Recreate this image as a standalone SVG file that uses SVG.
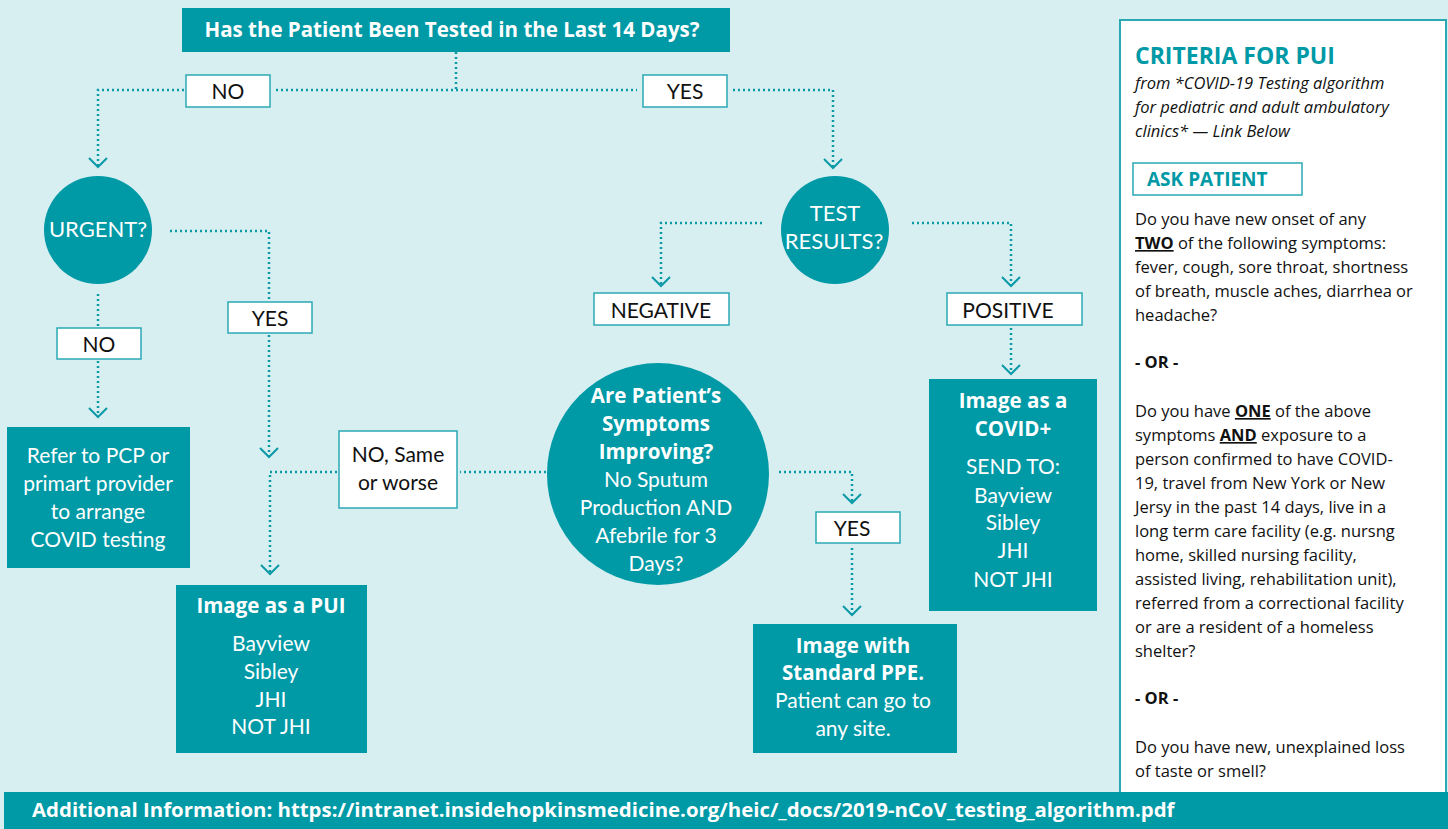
<svg xmlns="http://www.w3.org/2000/svg" width="1448" height="829" viewBox="0 0 1448 829">
<defs>
<style>
.bg{fill:#d8eff1}
.teal{fill:#0099a6}
.lbl{fill:#ffffff;stroke:#2aa9b4;stroke-width:1.5}
.lt{font-family:Lato,"Liberation Sans",sans-serif;font-size:21px;fill:#111;text-anchor:middle}
.wt{font-family:Lato,"Liberation Sans",sans-serif;font-size:21px;fill:#fff;text-anchor:middle}
.wb{font-family:"Open Sans","Liberation Sans",sans-serif;font-size:20.5px;font-weight:bold;fill:#fff;text-anchor:middle}
.ct{font-family:Lato,"Liberation Sans",sans-serif;font-size:22px;fill:#fff;text-anchor:middle}
.conn{fill:none;stroke:#0a9aa7;stroke-width:2.5;stroke-dasharray:2 3}
.pt{font-family:"Open Sans","Liberation Sans",sans-serif;font-size:16.5px;fill:#111}
.pb{font-weight:bold}
.u{font-weight:bold;text-decoration:underline}
</style>
<marker id="arr" viewBox="-12 -12 24 24" markerWidth="24" markerHeight="24" refX="0" refY="0" orient="auto" markerUnits="userSpaceOnUse">
<path d="M-9,-9 L0,0 L-9,9" fill="none" stroke="#0a9aa7" stroke-width="2"/>
</marker>
</defs>
<rect class="bg" x="0" y="0" width="1448" height="829"/>

<g id="connectors">
<path class="conn" d="M456,52 V90"/>
<path class="conn" d="M184,90 H98 V167" marker-end="url(#arr)"/>
<path class="conn" d="M276,90 H637"/>
<path class="conn" d="M733,90 H833 V168" marker-end="url(#arr)"/>
<path class="conn" d="M98,294 V327"/>
<path class="conn" d="M98,361 V417" marker-end="url(#arr)"/>
<path class="conn" d="M170,231 H269 V301"/>
<path class="conn" d="M269,335 V457" marker-end="url(#arr)"/>
<path class="conn" d="M337,472 H270 V574" marker-end="url(#arr)"/>
<path class="conn" d="M546,472 H460"/>
<path class="conn" d="M779,472 H852 V503" marker-end="url(#arr)"/>
<path class="conn" d="M852,548 V615" marker-end="url(#arr)"/>
<path class="conn" d="M762,223 H661 V286" marker-end="url(#arr)"/>
<path class="conn" d="M912,223 H1011 V286" marker-end="url(#arr)"/>
<path class="conn" d="M1011,328 V374" marker-end="url(#arr)"/>
</g>

<g id="header">
<rect class="teal" x="182" y="8" width="548" height="44"/>
<text class="wb" x="452" y="37" font-size="22.5">Has the Patient Been Tested in the Last 14 Days?</text>
</g>
<g id="no-top"><rect class="lbl" x="186" y="75" width="84" height="32"/><text class="lt" x="228" y="99">NO</text></g>
<g id="yes-top"><rect class="lbl" x="643" y="75" width="84" height="32"/><text class="lt" x="685" y="99">YES</text></g>

<g id="urgent"><circle class="teal" cx="98" cy="230" r="54"/><text class="ct" x="98" y="237">URGENT?</text></g>
<g id="test-results"><circle class="teal" cx="835" cy="230" r="54"/><text class="ct" x="835" y="221" font-size="21">TEST</text><text class="ct" x="834" y="249" font-size="21">RESULTS?</text></g>

<g id="no-urgent"><rect class="lbl" x="57" y="328" width="84" height="31"/><text class="lt" x="99" y="352">NO</text></g>
<g id="yes-urgent"><rect class="lbl" x="228" y="302" width="84" height="31"/><text class="lt" x="270" y="326">YES</text></g>
<g id="negative"><rect class="lbl" x="594" y="293" width="135" height="32"/><text class="lt" x="661" y="318">NEGATIVE</text></g>
<g id="positive"><rect class="lbl" x="947" y="293" width="135" height="32"/><text class="lt" x="1008" y="318">POSITIVE</text></g>

<g id="refer">
<rect class="teal" x="7" y="427" width="183" height="141"/>
<text class="wt" x="98" y="463" font-size="22">Refer to PCP or</text>
<text class="wt" x="98" y="491" font-size="22">primart provider</text>
<text class="wt" x="98" y="519" font-size="22">to arrange</text>
<text class="wt" x="98" y="547" font-size="22">COVID testing</text>
</g>

<g id="no-same"><rect class="lbl" x="339" y="431" width="118" height="77"/><text class="lt" x="398" y="462">NO, Same</text><text class="lt" x="398" y="490">or worse</text></g>

<g id="improving">
<circle class="teal" cx="658" cy="474" r="111"/>
<text class="wb" x="656" y="403">Are Patient’s</text>
<text class="wb" x="656" y="431">Symptoms</text>
<text class="wb" x="656" y="459">Improving?</text>
<text class="wt" x="656" y="487" font-size="22">No Sputum</text>
<text class="wt" x="656" y="515" font-size="22">Production AND</text>
<text class="wt" x="656" y="543" font-size="22">Afebrile for 3</text>
<text class="wt" x="656" y="571" font-size="22">Days?</text>
</g>

<g id="yes-improving"><rect class="lbl" x="816" y="512" width="84" height="31"/><text class="lt" x="852" y="536">YES</text></g>

<g id="pui">
<rect class="teal" x="176" y="585" width="191" height="168"/>
<text class="wb" x="271" y="613">Image as a PUI</text>
<text class="wt" x="271" y="651">Bayview</text>
<text class="wt" x="271" y="679">Sibley</text>
<text class="wt" x="271" y="707">JHI</text>
<text class="wt" x="271" y="734">NOT JHI</text>
</g>

<g id="standard-ppe">
<rect class="teal" x="753" y="624" width="204" height="129"/>
<text class="wb" x="853" y="653">Image with</text>
<text class="wb" x="853" y="680">Standard PPE.</text>
<text class="wt" x="853" y="708">Patient can go to</text>
<text class="wt" x="853" y="736">any site.</text>
</g>

<g id="covid-pos">
<rect class="teal" x="929" y="379" width="168" height="232"/>
<text class="wb" x="1013" y="408">Image as a</text>
<text class="wb" x="1013" y="436">COVID+</text>
<text class="wt" x="1013" y="474">SEND TO:</text>
<text class="wt" x="1013" y="503">Bayview</text>
<text class="wt" x="1013" y="530">Sibley</text>
<text class="wt" x="1013" y="558">JHI</text>
<text class="wt" x="1013" y="587">NOT JHI</text>
</g>

<g id="criteria-panel">
<rect x="1120" y="20" width="326" height="790" fill="#ffffff" stroke="#2aa9b4" stroke-width="2"/>
<text x="1135" y="64" font-family="'Open Sans','Liberation Sans',sans-serif" font-size="23" font-weight="bold" fill="#0099a6">CRITERIA FOR PUI</text>
<text class="pt" x="1135" y="89" font-style="italic" font-size="17">from *COVID-19 Testing algorithm</text>
<text class="pt" x="1135" y="113" font-style="italic" font-size="17">for pediatric and adult ambulatory</text>
<text class="pt" x="1135" y="137" font-style="italic" font-size="17">clinics* — Link Below</text>
<rect x="1133" y="163" width="169" height="32" fill="#fff" stroke="#2aa9b4" stroke-width="1.5"/>
<text x="1147" y="186" font-family="'Open Sans','Liberation Sans',sans-serif" font-size="19" font-weight="bold" fill="#0099a6">ASK PATIENT</text>
<text class="pt" x="1135" y="225">Do you have new onset of any</text>
<text class="pt" x="1135" y="249"><tspan class="u">TWO</tspan> of the following symptoms:</text>
<text class="pt" x="1135" y="273">fever, cough, sore throat, shortness</text>
<text class="pt" x="1135" y="297">of breath, muscle aches, diarrhea or</text>
<text class="pt" x="1135" y="321">headache?</text>
<text class="pt pb" x="1135" y="368">- OR -</text>
<text class="pt" x="1135" y="417">Do you have <tspan class="u">ONE</tspan> of the above</text>
<text class="pt" x="1135" y="441">symptoms <tspan class="u">AND</tspan> exposure to a</text>
<text class="pt" x="1135" y="465">person confirmed to have COVID-</text>
<text class="pt" x="1135" y="489">19, travel from New York or New</text>
<text class="pt" x="1135" y="513">Jersy in the past 14 days, live in a</text>
<text class="pt" x="1135" y="537">long term care facility (e.g. nursng</text>
<text class="pt" x="1135" y="561">home, skilled nursing facility,</text>
<text class="pt" x="1135" y="585">assisted living, rehabilitation unit),</text>
<text class="pt" x="1135" y="609">referred from a correctional facility</text>
<text class="pt" x="1135" y="633">or are a resident of a homeless</text>
<text class="pt" x="1135" y="657">shelter?</text>
<text class="pt pb" x="1135" y="704">- OR -</text>
<text class="pt" x="1135" y="753">Do you have new, unexplained loss</text>
<text class="pt" x="1135" y="777">of taste or smell?</text>
</g>

<g id="footer">
<rect class="teal" x="4" y="792" width="1444" height="37"/>
<text x="32" y="817" font-family="'Open Sans','Liberation Sans',sans-serif" font-size="20.4" font-weight="bold" fill="#fff">Additional Information: https://intranet.insidehopkinsmedicine.org/heic/_docs/2019-nCoV_testing_algorithm.pdf</text>
</g>
</svg>
